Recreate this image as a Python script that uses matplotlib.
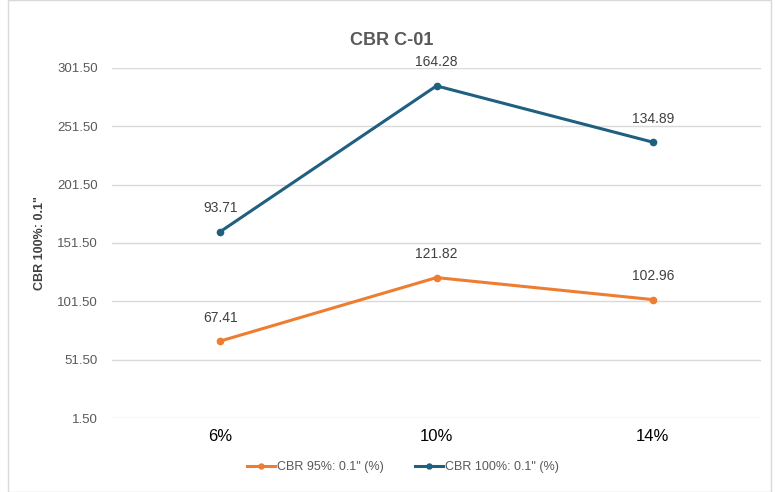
import matplotlib.pyplot as plt
import matplotlib.patches as mpatches

plt.rcParams['font.family'] = ['Liberation Sans', 'DejaVu Sans']

categories = ['6%', '10%', '14%']
cbr95 = [67.41, 121.82, 102.96]
cbr100 = [93.71, 164.28, 134.89]
yticks = [1.5, 51.5, 101.5, 151.5, 201.5, 251.5, 301.5]

orange = '#ed7d31'
blue = '#1f5f80'

# stacked line chart: blue sits on top of orange
stacked = [a + b for a, b in zip(cbr95, cbr100)]

fig = plt.figure(figsize=(7.75, 4.92), dpi=100)
ax = fig.add_axes([0.1445, 0.1504, 0.8375, 0.7116])

x = list(range(len(categories)))
ax.plot(x, cbr95, color=orange, lw=2.2, marker='o', ms=4.5, label='CBR 95%: 0.1" (%)')
ax.plot(x, stacked, color=blue, lw=2.2, marker='o', ms=4.5, label='CBR 100%: 0.1" (%)')

for xi, y, v in zip(x, cbr95, cbr95):
    ax.annotate(f'{v:.2f}', (xi, y), xytext=(0, 14), textcoords='offset points',
                ha='center', fontsize=10, color='#404040')
for xi, y, v in zip(x, stacked, cbr100):
    ax.annotate(f'{v:.2f}', (xi, y), xytext=(0, 14), textcoords='offset points',
                ha='center', fontsize=10, color='#404040')

ax.set_xlim(-0.5, 2.5)
ax.set_ylim(1.5, 301.5)
ax.set_yticks(yticks)
ax.set_yticklabels([f'{t:.2f}' for t in yticks])
ax.set_xticks(x)
ax.set_xticklabels(categories)
ax.tick_params(axis='y', length=0, labelsize=9.5, labelcolor='#595959', pad=10)
ax.tick_params(axis='x', length=0, labelsize=12, labelcolor='black', pad=8)
ax.grid(axis='y', color='#d9d9d9', lw=1)
ax.set_axisbelow(True)
for s in ax.spines.values():
    s.set_visible(False)

ax.set_ylabel('CBR 100%: 0.1"', fontsize=9, fontweight='bold', color='#404040', labelpad=8)
fig.text(0.505, 0.918, 'CBR C-01', ha='center', va='center', fontsize=13,
         fontweight='bold', color='#595959')

fig.legend(loc='center', bbox_to_anchor=(0.52, 0.05), ncol=2, frameon=False,
           fontsize=9, labelcolor='#595959', handlelength=2.2, handletextpad=0.2,
           columnspacing=2.5, markerscale=0.8)

fig.patches.append(mpatches.Rectangle((0.01, 0.0), 0.985, 0.999, transform=fig.transFigure,
                                      fill=False, edgecolor='#d9d9d9', lw=1))

fig.savefig('out.png', dpi=100)
